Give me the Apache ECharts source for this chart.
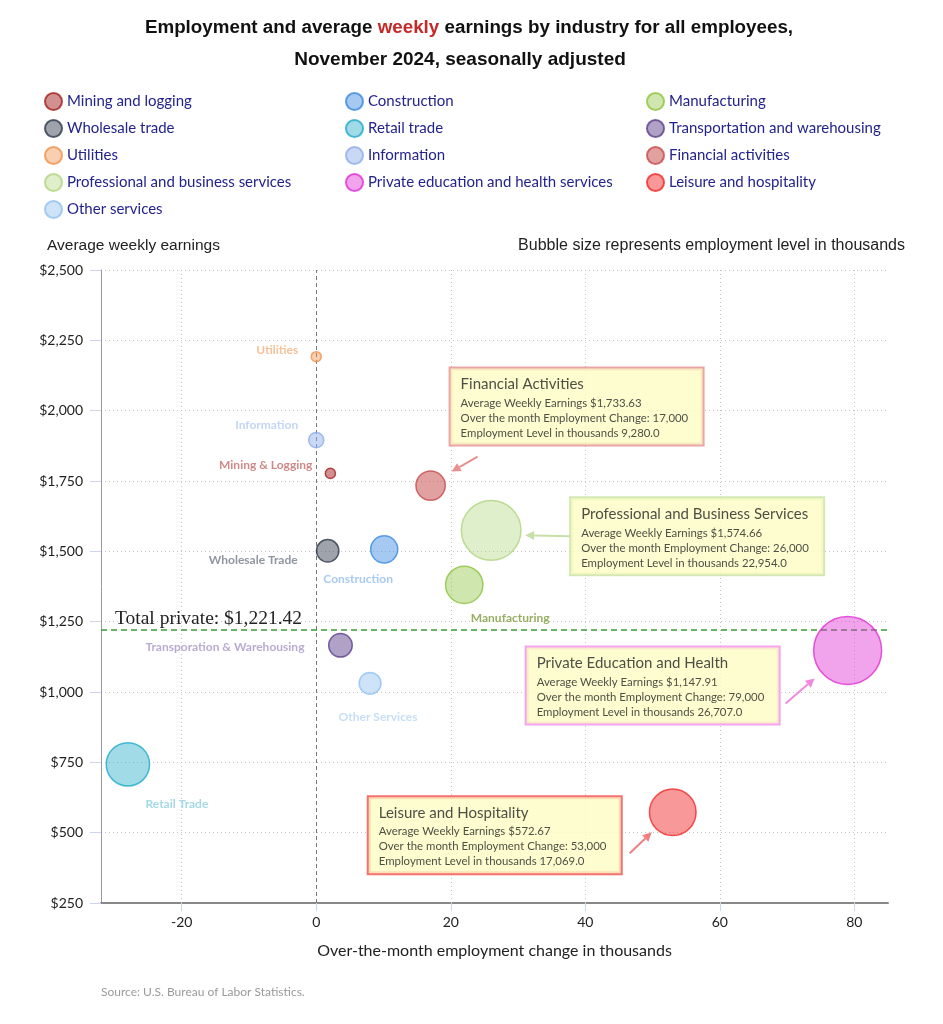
<!DOCTYPE html>
<html><head><meta charset="utf-8">
<script src="https://cdn.jsdelivr.net/npm/echarts@6/dist/echarts.min.js"></script>
<style>html,body{margin:0;padding:0;background:#fff}#c{width:943px;height:1024px}</style>
</head><body><div id="c"></div>
<script>
// ---------- data ----------
const industries = ['Mining and logging','Construction','Manufacturing','Wholesale trade','Retail trade',
  'Transportation and warehousing','Utilities','Information','Financial activities',
  'Professional and business services','Private education and health services','Leisure and hospitality','Other services'];
const changes    = [2.1, 10.1, 22.0, 1.7, -28.0, 3.6, 0.0, 0.0, 17, 26, 79, 53, 8.0];
const earnings   = [1777, 1507, 1381, 1502, 743, 1166, 2192, 1895, 1733.63, 1574.66, 1147.91, 572.67, 1031];
const employment = [640, 8280, 12900, 6160, 15600, 6660, 590, 2920, 9280.0, 22954.0, 26707.0, 17069.0, 5880];
const shortLabels = ['Mining & Logging','Construction','Manufacturing','Wholesale Trade','Retail Trade',
  'Transporation & Warehousing','Utilities','Information','Financial Activities',
  'Professional and Business Services','Private Education and Health','Leisure and Hospitality','Other Services'];
const xTicks = [-20, 0, 20, 40, 60, 80];
const totalPrivate = 1221.42;
const legendColumns = [[0,3,6,9,12],[1,4,7,10],[2,5,8,11]];

// ---------- styles ----------
const styles = [
  {c:'#a32020', a:0.62, lc:'#c46a6a', align:'right',  off:[-18,-8]},
  {c:'#3a88e0', a:0.57, lc:'#92bbef', align:'center', off:[-26,30]},
  {c:'#8cc43c', a:0.52, lc:'#7d9a3c', align:'center', off:[46,33]},
  {c:'#2f3a4c', a:0.58, lc:'#737b8a', align:'right',  off:[-30,9]},
  {c:'#20aac8', a:0.53, lc:'#8fd0e2', align:'center', off:[49,40]},
  {c:'#5a3d8a', a:0.6,  lc:'#a896c4', align:'right',  off:[-36,2]},
  {c:'#f0914a', a:0.55, lc:'#f5b07c', align:'right',  off:[-18,-7]},
  {c:'#8eaeea', a:0.6,  lc:'#b5ccf0', align:'right',  off:[-18,-15]},
  {c:'#c84a4a', a:0.65, box:'#e49090', off:[20,-117], arrow:[[47,-29],[21,-14]], ac:'#e89090'},
  {c:'#b0d47e', a:0.5,  box:'#c9e2a4', off:[80,-32],  arrow:[[79,6],[34,5]],     ac:'#c8e0a8'},
  {c:'#e02ed2', a:0.55, box:'#f28de8', off:[-321,-3], arrow:[[-62,53],[-33,28]], ac:'#f08ae0'},
  {c:'#f02828', a:0.6,  box:'#f24c4c', off:[-304,-15],arrow:[[-43,41],[-21,20]], ac:'#f08080'},
  {c:'#90c0f0', a:0.55, lc:'#b9d6f5', align:'center', off:[8,34]}
];
function rgba(hex, a){const n=parseInt(hex.slice(1),16);return `rgba(${n>>16},${(n>>8)&255},${n&255},${a})`;}

const minEmp = Math.min(...employment), maxEmp = Math.max(...employment);
const sizeFn = v => 10 + (v[2]-minEmp)/(maxEmp-minEmp)*58;
const fmtMoney = v => '$' + v.toLocaleString('en-US',{minimumFractionDigits:2,maximumFractionDigits:2});

const series = industries.map((name,i)=>{
  const st = styles[i];
  let label;
  if (st.box) {
    label = {
      show:true, position:'inside', align:'left', verticalAlign:'top', offset:st.off,
      formatter: () => `{t|${shortLabels[i]}}\n{l|Average Weekly Earnings ${fmtMoney(earnings[i])}}\n{l|Over the month Employment Change: ${(changes[i]*1000).toLocaleString('en-US')}}\n{l|Employment Level in thousands ${employment[i].toLocaleString('en-US',{minimumFractionDigits:1,maximumFractionDigits:1})}}`,
      backgroundColor:'#fcfcc4', borderColor:st.box, borderWidth:2, padding:[5,10,4,10], width:232,
      rich:{ t:{fontFamily:'Lato',fontSize:15,lineHeight:22,color:'#222'},
             l:{fontFamily:'Lato',fontSize:11.4,lineHeight:15,color:'#222'} }
    };
  } else {
    label = { show:true, position:'inside', align:st.align, verticalAlign:'middle', offset:st.off,
      formatter: () => shortLabels[i], color:st.lc, fontFamily:'Lato', fontWeight:'bold', fontSize:12 };
  }
  const s = {
    name, type:'scatter', data:[[changes[i], earnings[i], employment[i]]],
    symbol:'circle', symbolSize:sizeFn,
    itemStyle:{color:rgba(st.c, st.a), borderColor:st.c, borderWidth:1.5},
    label, emphasis:{disabled:true}, animation:false, z: st.box ? 4 : 3
  };
  if (i===0) {
    s.markLine = { silent:true, symbol:'none', animation:false, z:1,
      data: [
        ...xTicks.filter(v=>v!==0).map(v=>({xAxis:v, lineStyle:{type:[1,3], color:'#c4c4c4', width:1}, label:{show:false}})),
        {xAxis:0, lineStyle:{type:[4,3], color:'#777', width:1}, label:{show:false}},
        {yAxis:totalPrivate, lineStyle:{type:[6,4], color:'#3a9a3a', width:1.5},
         label:{show:true, position:'insideStartTop', distance:[14,1], formatter:'Total private: ' + fmtMoney(totalPrivate),
                color:'#222', fontFamily:'Liberation Serif', fontSize:19.5}}
      ]};
  }
  return s;
});

const legendBase = {orient:'vertical', icon:'circle', itemWidth:17, itemHeight:17, itemGap:8,
  textStyle:{color:'#23238e', fontFamily:'Lato', fontSize:15}, selectedMode:false, top:87};
const legendLefts = [39, 340, 641];

const titleFont = {fontFamily:'Liberation Sans', fontWeight:'bold', fontSize:18.8, color:'#111'};
const chart = echarts.init(document.getElementById('c'), null, {renderer:'canvas'});
const option = {
  backgroundColor:'#fff',
  animation:false,
  title:[
    {text:'Employment and average {r|weekly} earnings by industry for all employees,',
     left:464, textAlign:'center', top:13,
     textStyle:Object.assign({}, titleFont, {rich:{r:Object.assign({}, titleFont, {color:'#c62828'})}})},
    {text:'November 2024, seasonally adjusted', left:455, textAlign:'center', top:45,
     textStyle:Object.assign({}, titleFont, {fontSize:19})},
    {text:'Average weekly earnings', left:42, top:233, textStyle:{fontFamily:'Liberation Sans', fontWeight:'normal', fontSize:15.5, color:'#222'}},
    {text:'Bubble size represents employment level in thousands', right:33, top:233, textStyle:{fontFamily:'Liberation Sans', fontWeight:'normal', fontSize:16, color:'#222'}},
    {text:'Source: U.S. Bureau of Labor Statistics.', left:96, top:981, textStyle:{fontFamily:'Lato', fontWeight:'normal', fontSize:12, color:'#9a9a9a'}}
  ],
  legend: legendColumns.map((col,k)=>Object.assign({}, legendBase, {left:legendLefts[k], data:col.map(i=>industries[i])})),
  grid:{left:101, right:55, top:270, bottom:121, containLabel:false},
  xAxis:{type:'value', min:-32, max:85,
    name:'Over-the-month employment change in thousands', nameLocation:'middle', nameGap:40,
    nameTextStyle:{fontFamily:'Lato', fontSize:16, color:'#222'},
    axisLine:{show:true, onZero:false, lineStyle:{color:'#888', width:2}},
    axisTick:{show:true, length:8, customValues:xTicks, lineStyle:{color:'#ccd6eb'}},
    axisLabel:{customValues:xTicks, margin:12, fontFamily:'Lato', fontSize:14, color:'#222'},
    splitLine:{show:false}},
  yAxis:{type:'value', min:250, max:2500, interval:250,
    axisLine:{show:true, onZero:false, lineStyle:{color:'#999', width:1}},
    axisTick:{show:true, length:11, lineStyle:{color:'#ccd6eb'}},
    axisLabel:{margin:18, fontFamily:'Lato', fontSize:14, color:'#222',
      formatter:v=>'$'+v.toLocaleString('en-US')},
    splitLine:{show:true, lineStyle:{type:[1,3], color:'#c4c4c4', width:1}}},
  series
};
chart.setOption(option);

// arrows anchored to the annotated bubbles
const graphics = [];
industries.forEach((n,i)=>{
  const st = styles[i];
  if (!st.arrow) return;
  const p = chart.convertToPixel({xAxisIndex:0, yAxisIndex:0}, [changes[i], earnings[i]]);
  const x1 = p[0]+st.arrow[0][0], y1 = p[1]+st.arrow[0][1];
  const x2 = p[0]+st.arrow[1][0], y2 = p[1]+st.arrow[1][1];
  const dx = x2-x1, dy = y2-y1, L = Math.hypot(dx,dy), ux = dx/L, uy = dy/L;
  const hl = 9, hw = 4.5;
  const bx = x2-ux*hl, by = y2-uy*hl;
  graphics.push({type:'line', silent:true, z:10, shape:{x1, y1, x2:bx, y2:by}, style:{stroke:st.ac, lineWidth:2}});
  graphics.push({type:'polygon', silent:true, z:10, shape:{points:[[x2,y2],[bx-uy*hw, by+ux*hw],[bx+uy*hw, by-ux*hw]]}, style:{fill:st.ac}});
});
chart.setOption({graphic:graphics});
</script></body></html>
